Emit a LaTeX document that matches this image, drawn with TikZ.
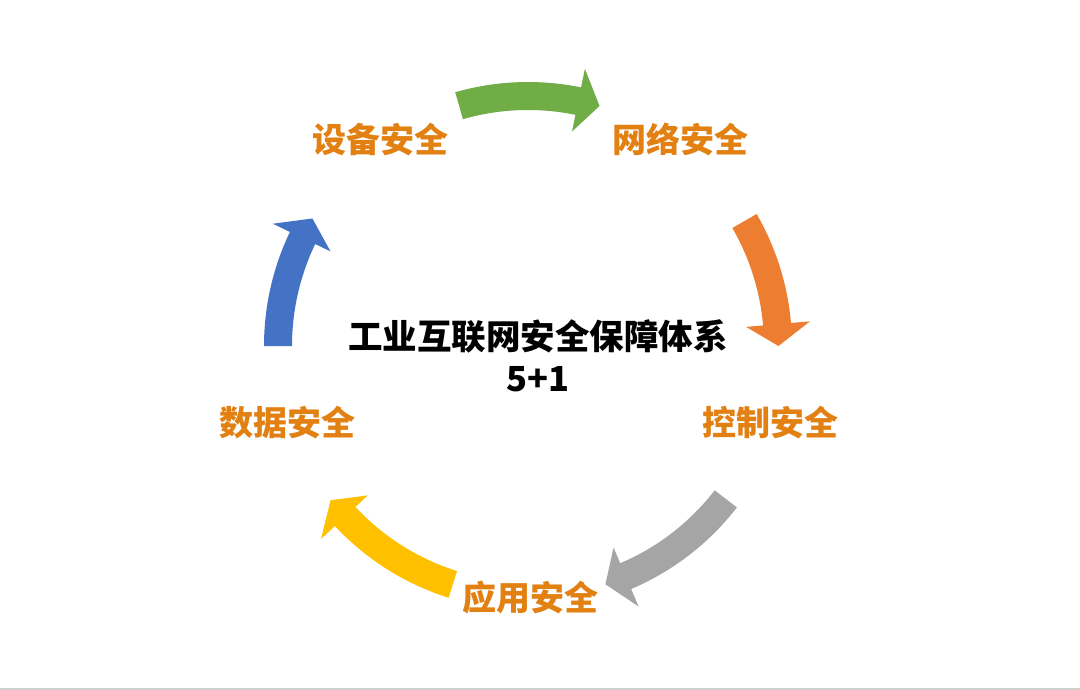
\documentclass[tikz,border=0pt]{standalone}
\usepackage{fontspec}
\newfontfamily\cjk{Noto Sans CJK SC}
\definecolor{accGreen}{HTML}{70AD47}
\definecolor{accOrange}{HTML}{ED7D31}
\definecolor{accGray}{HTML}{A5A5A5}
\definecolor{accYellow}{HTML}{FFC000}
\definecolor{accBlue}{HTML}{4472C4}
\definecolor{labelOrange}{RGB}{226,128,18}
\definecolor{rule}{RGB}{208,208,208}

% curved block arrow on the ring: #1 tail angle, #2 tip angle, #3 colour
\newcommand\ringarrow[3]{%
  \pgfmathsetmacro\arrhb{#2-5}%
  \fill[#3] plot[domain=#1:\arrhb, samples=40, variable=\t] (\t:264)
    -- (\arrhb:283) -- (#2:250.5) -- (\arrhb:219)
    -- plot[domain=#1:\arrhb, samples=40, variable=\t] (#1+\arrhb-\t:236)
    -- cycle;%
}

\tikzset{
  part/.style={font=\cjk\bfseries\fontsize{34}{40}\selectfont, text=labelOrange, inner sep=0pt},
  title/.style={font=\cjk\bfseries\fontsize{34.5}{42}\selectfont, text=black, inner sep=0pt, align=center},
}

\begin{document}
\begin{tikzpicture}[x=1pt, y=-1pt]
  \useasboundingbox (0,0) rectangle (1080,690);
  \fill[white] (0,0) rectangle (1080,690);
  \fill[rule] (0,687.5) rectangle (1080,690);

  % the five arrows around the ring
  \begin{scope}[shift={(528,346)}]
    \ringarrow{254}{286.6}{accGreen}
    \ringarrow{330}{360}{accOrange}
    \ringarrow{37.7}{72}{accGray}
    \ringarrow{107.5}{142}{accYellow}
    \ringarrow{180}{210.6}{accBlue}
  \end{scope}

  % the five parts
  \node[part] (dev)  at (380,139.5) {设备安全};
  \node[part] (net)  at (680,139.5) {网络安全};
  \node[part] (ctrl) at (770,423)   {控制安全};
  \node[part] (app)  at (530,598)   {应用安全};
  \node[part] (data) at (287.5,423) {数据安全};

  % centre title
  \node[title] (sys) at (538,356) {工业互联网安全保障体系\\5+1};
\end{tikzpicture}
\end{document}
